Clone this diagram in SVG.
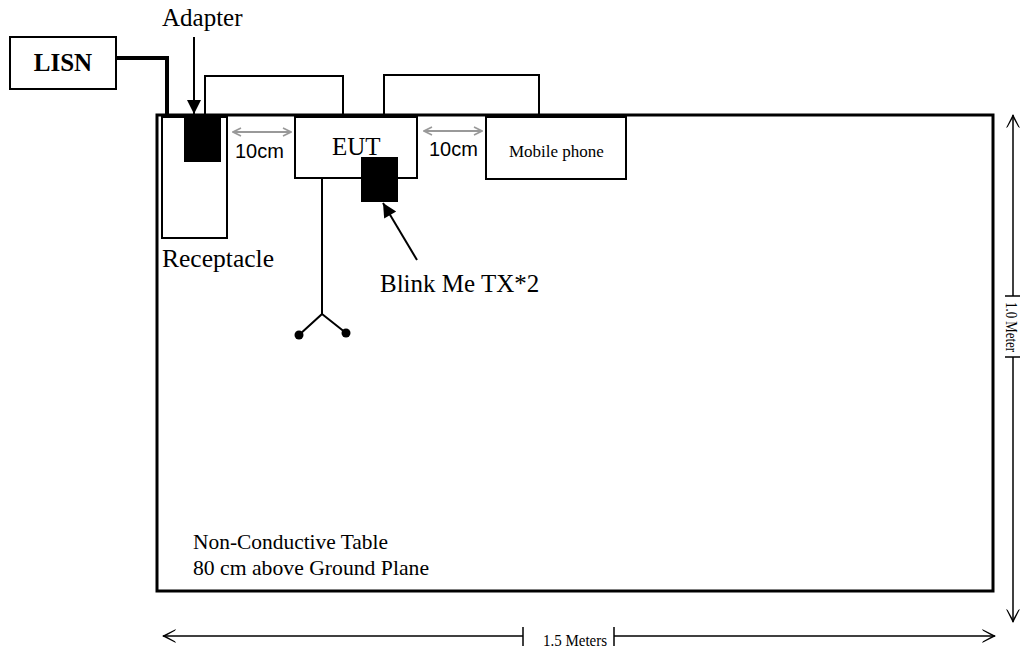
<svg xmlns="http://www.w3.org/2000/svg" width="1020" height="653" viewBox="0 0 1020 653">
<style>
.serif{font-family:"Liberation Serif","Times New Roman",serif;fill:#000}
.sans{font-family:"Liberation Sans",Arial,sans-serif;fill:#000}
.box{fill:#fff;stroke:#000;stroke-width:2}
.wire{fill:none;stroke:#000;stroke-width:2}
.cable{fill:none;stroke:#000;stroke-width:4}
.gray{fill:none;stroke:#999;stroke-width:2;marker-start:url(#gch);marker-end:url(#gch)}
.dim{fill:none;stroke:#000;stroke-width:1.5}
</style>
<defs>
<marker id="gch" viewBox="0 0 10 10" refX="9" refY="5" markerUnits="userSpaceOnUse" markerWidth="10" markerHeight="12" orient="auto-start-reverse">
<path d="M1,1 L9,5 L1,9" fill="none" stroke="#999" stroke-width="1.6"/>
</marker>
<marker id="fa" viewBox="0 0 10 10" refX="10" refY="5" markerUnits="userSpaceOnUse" markerWidth="17" markerHeight="14" orient="auto">
<path d="M0,0 L10,5 L0,10 z" fill="#000"/>
</marker>
<marker id="da" viewBox="0 0 14 14" refX="13" refY="7" markerUnits="userSpaceOnUse" markerWidth="14" markerHeight="17" orient="auto-start-reverse">
<path d="M0,0 L14,7 L0,14 L1,12.3 L10.5,7 L1,1.7 z" fill="#000"/>
</marker>
</defs>

<g id="table">
<rect x="157" y="115" width="836" height="476" fill="#fff" stroke="#000" stroke-width="3"/>
<text class="serif" x="193" y="549" font-size="22" textLength="195" lengthAdjust="spacingAndGlyphs">Non-Conductive Table</text>
<text class="serif" x="193" y="575" font-size="22" textLength="236" lengthAdjust="spacingAndGlyphs">80 cm above Ground Plane</text>
</g>

<g id="connectors">
<path class="cable" d="M116,58 H167 V115"/>
<path class="wire" d="M205,115 V76 H343 V117"/>
<path class="wire" d="M384,118 V75 H539 V117"/>
<line x1="194" y1="37" x2="194" y2="114" stroke="#000" stroke-width="2" marker-end="url(#fa)"/>
<line x1="417" y1="260" x2="383" y2="203" stroke="#000" stroke-width="2" marker-end="url(#fa)"/>
<line class="gray" x1="233" y1="132" x2="291" y2="132"/>
<line class="gray" x1="424" y1="131" x2="482" y2="131"/>
</g>

<g id="lisn">
<rect class="box" x="10" y="37" width="106" height="52"/>
<text class="serif" x="63" y="71" font-size="25" font-weight="bold" text-anchor="middle">LISN</text>
</g>

<g id="adapter-label">
<text class="serif" x="162" y="26" font-size="25">Adapter</text>
</g>

<g id="receptacle">
<rect class="box" x="162" y="117" width="65" height="121"/>
<text class="serif" x="162" y="267" font-size="25" textLength="112" lengthAdjust="spacingAndGlyphs">Receptacle</text>
</g>

<g id="adapter">
<rect x="184" y="117" width="37" height="45" fill="#000"/>
</g>

<g id="spacing-labels">
<text class="sans" x="235" y="158" font-size="20">10cm</text>
<text class="sans" x="429" y="156" font-size="20">10cm</text>
</g>

<g id="eut">
<rect class="box" x="295" y="117" width="122" height="61"/>
<text class="serif" x="332" y="155" font-size="25">EUT</text>
</g>

<g id="antenna">
<path class="wire" d="M322,178 V314 L299,335 M322,314 L346,333"/>
<circle cx="299" cy="335" r="4.5" fill="#000"/>
<circle cx="346" cy="333" r="4.5" fill="#000"/>
</g>

<g id="blink">
<rect x="361" y="157" width="37" height="45" fill="#000"/>
<text class="serif" x="380" y="292" font-size="25">Blink Me TX*2</text>
</g>

<g id="mobile">
<rect class="box" x="486" y="117" width="140" height="62"/>
<text class="serif" x="509" y="157" font-size="17">Mobile phone</text>
</g>

<g id="dimension-width">
<line class="dim" x1="163" y1="636" x2="523" y2="636" marker-start="url(#da)"/>
<line class="dim" x1="523" y1="627" x2="523" y2="646"/>
<line class="dim" x1="614" y1="636" x2="995" y2="636" marker-end="url(#da)"/>
<line class="dim" x1="614" y1="627" x2="614" y2="646"/>
<text class="serif" x="543" y="646" font-size="17" textLength="64" lengthAdjust="spacingAndGlyphs">1.5 Meters</text>
</g>

<g id="dimension-depth">
<line class="dim" x1="1013" y1="115" x2="1013" y2="296" marker-start="url(#da)"/>
<line class="dim" x1="1005" y1="296" x2="1020" y2="296"/>
<line class="dim" x1="1013" y1="357" x2="1013" y2="622" marker-end="url(#da)"/>
<line class="dim" x1="1005" y1="357" x2="1020" y2="357"/>
<text class="serif" transform="translate(1006,302) rotate(90)" font-size="17" textLength="50" lengthAdjust="spacingAndGlyphs">1.0 Meter</text>
</g>
</svg>
